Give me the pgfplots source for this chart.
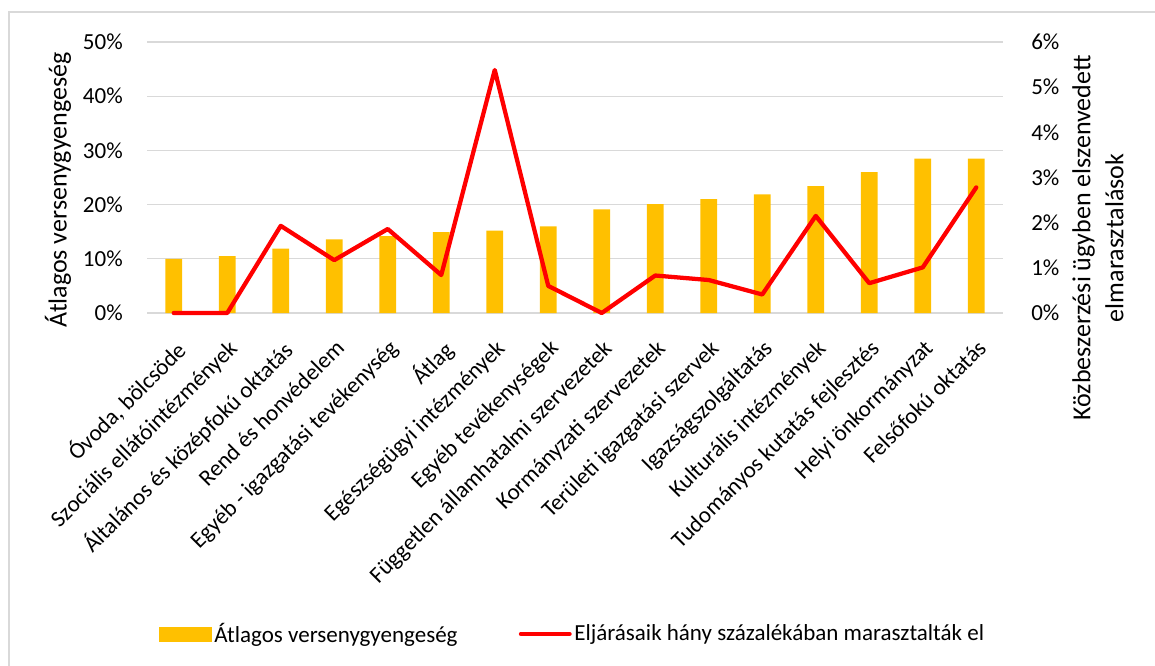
\documentclass[border=0pt]{standalone}
\usepackage{fontspec}
\setmainfont{Carlito}
\usepackage{pgfplots}
\pgfplotsset{compat=1.18}
\definecolor{barc}{HTML}{FFC000}
\definecolor{linec}{HTML}{FF0000}
\definecolor{gridc}{HTML}{D9D9D9}
\newcommand{\tickfont}{\fontsize{17.25}{20}\selectfont}
\newcommand{\titlefont}{\fontsize{19.5}{24.75}\selectfont}
\begin{document}
\begin{tikzpicture}
\useasboundingbox (0,0) rectangle (866.25pt,-499.5pt);
\draw[gridc, line width=1.1pt] (6.75pt,-501pt) -- (6.75pt,-9pt) -- (868pt,-9pt);
\begin{axis}[
  at={(110.25pt,-234.75pt)}, anchor=south west,
  width=642pt, height=203.25pt, scale only axis,
  xmin=-0.5, xmax=15.5, ymin=0, ymax=50,
  ytick={0,10,...,50},
  xtick={0,...,15},
  /pgf/number format/assume math mode=true,
  yticklabel={\pgfmathprintnumber{\tick}\%},
  yticklabel style={font=\tickfont, inner sep=0pt, anchor=east, xshift=-18pt},
  xticklabels={{Óvoda, bölcsöde},{Szociális ellátóintézmények},{Általános és középfokú oktatás},{Rend és honvédelem},{Egyéb - igazgatási tevékenység},{Átlag},{Egészségügyi intézmények},{Egyéb tevékenységek},{Független államhatalmi szervezetek},{Kormányzati szervezetek},{Területi igazgatási szervek},{Igazságszolgáltatás},{Kulturális intézmények},{Tudományos kutatás fejlesztés},{Helyi önkormányzat},{Felsőfokú oktatás}},
  xticklabel style={font=\tickfont, inner sep=0pt, yshift=-18.75pt, rotate=45, anchor=north east},
  major tick length=0pt,
  axis line style={draw=none},
  ymajorgrids, major grid style={gridc, line width=0.8pt},
  ylabel={Átlagos versenygyengeség},
  ylabel style={font=\titlefont, at={(axis description cs:-0.104,0.454)}, anchor=center},
]
\addplot[ybar, bar width=12.4pt, fill=barc, draw=none] coordinates {
(0,10.0) (1,10.5) (2,11.9) (3,13.6) (4,14.2) (5,14.9) (6,15.2) (7,16.0)
(8,19.1) (9,20.1) (10,21.0) (11,21.9) (12,23.4) (13,26.0) (14,28.5) (15,28.5)};
\end{axis}
\begin{axis}[
  at={(110.25pt,-234.75pt)}, anchor=south west,
  width=642pt, height=203.25pt, scale only axis,
  xmin=-0.5, xmax=15.5, ymin=0, ymax=6,
  axis x line=none, axis y line*=right,
  axis line style={draw=none},
  major tick length=0pt,
  ytick={0,1,...,6},
  /pgf/number format/assume math mode=true,
  yticklabel={\pgfmathprintnumber{\tick}\%},
  yticklabel style={font=\tickfont, inner sep=0pt, anchor=west, xshift=21pt},
  ylabel={Közbeszerzési ügyben elszenvedett\\elmarasztalások},
  ylabel style={font=\titlefont, align=center, at={(axis description cs:1.111,0.277)}, anchor=center},
  clip=false,
  legend columns=2,
  legend style={at={(axis description cs:0.014,-1.1845)}, anchor=west, draw=none, fill=none, inner sep=0pt, font=\tickfont, /tikz/every even column/.append style={column sep=44pt}},
  legend cell align=left,
]
\addlegendimage{legend image code/.code={\fill[barc] (0pt,-5.25pt) rectangle (39pt,5.25pt);}}
\addlegendentry{Átlagos versenygyengeség}
\addplot[linec, line width=3.2pt, line join=round, line cap=round, mark=none,
  legend image code/.code={\draw[linec, line width=3.2pt, line cap=round] (1.5pt,0pt) -- (38pt,0pt);}] coordinates {
(0,0) (1,0) (2,1.93) (3,1.17) (4,1.86) (5,0.84) (6,5.38) (7,0.60)
(8,0) (9,0.83) (10,0.73) (11,0.41) (12,2.15) (13,0.66) (14,1.01) (15,2.78)};
\addlegendentry{Eljárásaik hány százalékában marasztalták el}
\end{axis}
\end{tikzpicture}
\end{document}
